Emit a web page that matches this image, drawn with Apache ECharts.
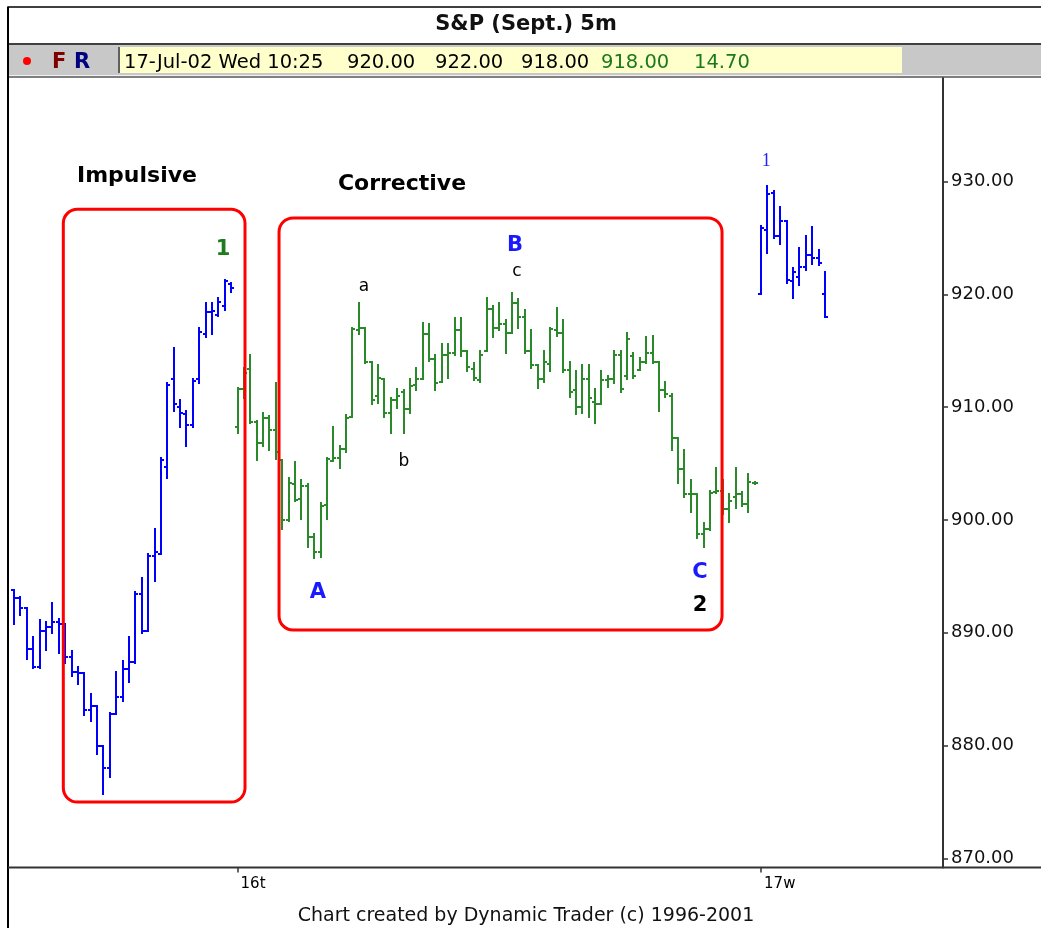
<!DOCTYPE html>
<html><head><meta charset="utf-8">
<script src="https://cdn.jsdelivr.net/npm/echarts@6/dist/echarts.min.js"></script>
<style>html,body{margin:0;padding:0;background:#fff;}#c{width:1041px;height:928px;}</style>
</head><body><div id="c"></div>
<script>
// ---------- data: 5-minute bars [open, high, low, close] ----------
const jul15Bars = [
 [893.8,893.8,890.8,893.1],[893.1,893.2,891.6,892.2],[892.2,892.2,887.7,888.6],[888.6,889.6,886.9,887.0],
 [887.0,891.1,886.9,890.2],[890.2,891.0,888.5,890.5],[890.5,892.6,890.0,891.0],[891.0,891.2,888.2,890.8],
 [890.8,890.8,887.3,887.9],[887.9,888.4,886.2,886.5],[886.5,887.0,885.5,886.4],[886.4,886.4,882.7,883.2],
 [883.2,884.6,882.2,883.5],[883.5,883.5,879.3,880.0],[880.0,880.0,875.7,878.0],[878.0,882.9,877.2,882.8],
 [882.8,886.5,882.8,884.3],[884.3,887.5,884.0,886.8],[886.8,889.6,885.6,887.4],[887.4,893.6,887.3,893.4],
 [893.4,894.9,890.0,890.2],[890.2,897.0,890.2,896.8],[896.8,899.2,894.6,897.2],[897.0,905.5,897.0,905.3],
 [904.7,912.1,903.7,912.0],[912.5,915.2,909.7,910.3],[910.0,910.6,908.2,909.5],[909.4,909.7,906.6,908.4],
 [908.4,912.5,908.2,912.3],[912.5,917.0,912.1,916.7],[916.5,919.2,916.2,918.4],[918.4,919.2,916.5,918.5],
 [918.2,919.7,918.1,919.3],[919.0,921.3,918.6,921.2],[920.9,921.0,920.2,920.6]
];
const jul16Bars = [
 [908.2,911.7,907.7,911.6],[911.6,913.5,910.8,913.0],[913.4,914.6,908.6,908.7],[908.7,908.8,905.3,906.8],
 [906.8,909.5,906.6,909.0],[909.0,909.2,906.2,908.0],[908.0,912.1,905.4,906.0],[905.3,905.3,899.2,900.0],
 [900.0,903.7,899.9,903.3],[903.2,905.1,901.7,901.8],[901.9,903.5,900.1,903.0],[903.0,903.2,897.6,898.5],
 [898.5,898.8,896.6,897.2],[897.2,901.5,896.7,901.2],[901.3,905.5,900.1,905.4],[905.2,908.2,905.2,905.5],
 [905.5,906.6,904.6,906.3],[906.3,909.3,906.0,909.0],[909.1,917.0,909.1,916.9],[916.8,919.2,916.5,917.0],
 [917.0,917.0,913.9,914.0],[914.0,914.0,910.3,910.6],[911.0,913.7,910.4,912.6],[912.5,912.5,909.1,909.5],
 [909.5,910.8,907.7,910.6],[910.6,911.6,909.9,911.0],[911.3,911.5,907.7,909.8],[909.8,912.5,909.5,911.9],
 [912.0,913.5,911.5,912.5],[912.5,917.5,912.5,916.5],[916.5,917.4,914.1,914.3],[914.3,914.6,911.5,912.1],
 [912.2,915.6,912.2,914.6],[914.6,915.6,912.6,914.8],[914.8,917.9,914.6,916.8],[916.8,917.9,914.5,915.0],
 [915.0,915.0,913.2,913.6],[913.4,913.9,912.4,912.6],[912.4,915.0,912.2,914.6],[915.0,919.7,915.0,918.7],
 [918.7,919.0,916.2,917.0],[917.0,919.2,916.8,917.4],[917.4,917.7,914.8,916.6],[916.6,920.1,916.6,919.2],
 [919.2,919.6,917.0,918.0],[918.0,918.6,914.8,915.0],[915.0,916.8,913.5,913.7],[913.7,913.7,911.7,912.5],
 [912.5,915.0,912.2,914.0],[913.8,917.0,913.2,916.9],[916.8,918.8,916.3,916.6],[916.6,917.7,913.1,913.3],
 [913.3,914.0,910.9,911.3],[911.5,913.2,909.4,910.0],[910.0,913.7,909.5,912.5],[912.5,913.7,909.1,910.8],
 [910.5,911.6,908.6,910.3],[910.3,913.2,910.3,912.4],[912.4,912.8,911.8,912.5],[912.5,915.0,912.1,914.6],
 [914.6,915.0,911.3,911.6],[912.8,916.6,912.5,916.0],[914.5,914.8,912.6,912.8],[913.3,914.4,913.3,914.0],
 [914.0,916.2,913.9,914.8],[914.8,916.3,913.9,914.0],[914.0,914.0,909.7,911.5],[911.5,912.2,910.9,911.2],
 [911.0,911.2,906.2,907.3],[907.3,907.3,903.3,904.5],[904.5,906.2,902.0,902.3],[902.3,903.5,900.7,902.3],
 [902.3,902.3,898.4,898.8],[898.8,899.7,897.6,899.2],[899.2,902.6,899.1,902.4],[902.5,904.6,902.4,902.6],
 [902.6,903.5,900.5,901.0],[901.0,902.3,899.8,901.7],[902.0,904.6,901.1,902.3],[902.3,902.5,901.2,901.4],
 [901.4,904.1,900.7,903.4],[903.3,903.4,903.2,903.3]
];
const jul17Bars = [
 [920.0,926.1,920.0,925.9],[925.7,929.6,923.7,928.9],[929.0,929.2,925.0,925.2],[925.2,927.7,924.5,926.5],
 [926.5,926.5,921.0,921.3],[921.2,922.3,919.7,922.0],[921.5,924.1,920.8,922.4],[922.4,925.2,922.2,923.5],
 [923.5,926.0,922.7,923.2],[923.2,923.9,922.6,922.8],[920.0,922.0,918.0,918.0]
];
const dayTags = ['15m', '16t', '17w'];
const dayStartTimes = ['13:25', '09:30', '09:35'];
const emptySlots = 18;
const priceTicks = [870, 880, 890, 900, 910, 920, 930];
const lastBarDate = '17-Jul-02 Wed';

// annotation boxes: [fromBar, toBar, topPrice, bottomPrice]
const waveBoxes = [[7.71, 36.17, 927.54, 875.0], [41.5, 110.89, 926.77, 890.25]];
// annotation labels: bar position, price, text, look
const waveLabels = [
  [19.25, 930.44, 'Impulsive', 'head'],
  [60.76, 929.78, 'Corrective', 'head'],
  [32.72, 923.93, '1', 'green'],
  [54.81, 920.65, 'a', 'small'],
  [78.46, 924.28, 'B', 'blue'],
  [78.78, 921.98, 'c', 'small'],
  [61.07, 905.14, 'b', 'small'],
  [47.6, 893.53, 'A', 'blue'],
  [107.44, 895.30, 'C', 'blue'],
  [107.44, 892.38, '2', 'black'],
  [117.81, 931.82, '1', 'serif']
];

// ---------- build categories ----------
const days = [jul15Bars, jul16Bars, jul17Bars];
const categories = [];
const dayStartIdx = [];
const pad = n => (n < 10 ? '0' : '') + n;
days.forEach((bars, d) => {
  dayStartIdx.push(categories.length);
  const [hh, mm] = dayStartTimes[d].split(':').map(Number);
  bars.forEach((b, k) => {
    const t = hh * 60 + mm + 5 * k;
    categories.push(dayTags[d] + ' ' + pad(Math.floor(t / 60)) + ':' + pad(t % 60));
  });
});
for (let i = 0; i < emptySlots; i++) categories.push('');
const labelSet = new Set(dayStartIdx.slice(1));

const FONT = 'DejaVu Sans';
const dayColors = ['#0000ff', '#2a8a2a', '#0000ff'];

function ohlcRender(color) {
  return function (params, api) {
    const i = api.value(0);
    const pH = api.coord([i, api.value(2)]);
    const pL = api.coord([i, api.value(3)]);
    const yO = Math.round(api.coord([i, api.value(1)])[1]);
    const yC = Math.round(api.coord([i, api.value(4)])[1]);
    const x = Math.round(pH[0]);
    const st = { stroke: color, lineWidth: 2 };
    return { type: 'group', children: [
      { type: 'line', shape: { x1: x, y1: Math.round(pH[1]) - 1, x2: x, y2: Math.round(pL[1]) + 1 }, style: st },
      { type: 'line', shape: { x1: x - 3, y1: yO, x2: x, y2: yO }, style: st },
      { type: 'line', shape: { x1: x, y1: yC, x2: x + 3, y2: yC }, style: st }
    ] };
  };
}

function barX(api, pos) {
  const band = api.size([1, 0])[0];
  return api.coord([0, 900])[0] + pos * band;
}

const boxSeries = {
  type: 'custom', silent: true, clip: false, z: 3,
  data: waveBoxes.map(b => [0, b[2], b[0], b[1], b[3]]),
  encode: { x: 0, y: 1 },
  renderItem: function (params, api) {
    const x0 = barX(api, api.value(2)), x1 = barX(api, api.value(3));
    const y0 = api.coord([0, api.value(1)])[1], y1 = api.coord([0, api.value(4)])[1];
    return { type: 'rect', shape: { x: x0, y: y0, width: x1 - x0, height: y1 - y0, r: 14 },
      style: { fill: 'none', stroke: '#ff0000', lineWidth: 3 } };
  }
};

const looks = {
  head: { font: 'bold 22px ' + FONT, fill: '#000' },
  green: { font: 'bold 21px ' + FONT, fill: '#1e7b1e' },
  blue: { font: 'bold 21px ' + FONT, fill: '#1a1aff' },
  black: { font: 'bold 21px ' + FONT, fill: '#000' },
  small: { font: '17px ' + FONT, fill: '#000' },
  serif: { font: '18px "Liberation Serif"', fill: '#2020ff' }
};
const labelSeries = {
  type: 'custom', silent: true, clip: false, z: 4,
  data: waveLabels.map(l => [0, l[1], l[0]]),
  encode: { x: 0, y: 1 },
  renderItem: function (params, api) {
    const lab = waveLabels[params.dataIndex];
    const lk = looks[lab[3]];
    return { type: 'text', x: barX(api, api.value(2)), y: api.coord([0, api.value(1)])[1],
      style: { text: lab[2], font: lk.font, fill: lk.fill, align: 'center', verticalAlign: 'middle' } };
  }
};

const barSeries = days.map((bars, d) => ({
  type: 'custom', z: 2, clip: true,
  data: bars.map((b, k) => [dayStartIdx[d] + k, b[0], b[1], b[2], b[3]]),
  encode: { x: 0, y: [1, 2, 3, 4] },
  renderItem: ohlcRender(dayColors[d])
}));

// info bar values from last bar
const last = jul17Bars[jul17Bars.length - 1];
const prevClose = jul16Bars[jul16Bars.length - 1][3];
const lastTime = categories[dayStartIdx[2] + jul17Bars.length - 1].split(' ')[1];
const infoY = 63;
const infoFont = '19.5px ' + FONT;

const graphic = [
  { type: 'rect', shape: { x: 8, y: 7, width: 1040, height: 37 }, style: { fill: '#fff', stroke: '#000', lineWidth: 1.5 }, z: 10 },
  { type: 'text', x: 526, y: 25, style: { text: 'S&P (Sept.) 5m', font: 'bold 21px ' + FONT, fill: '#111', align: 'center', verticalAlign: 'middle' }, z: 11 },
  { type: 'rect', shape: { x: 9, y: 44, width: 1040, height: 31 }, style: { fill: '#c8c8c8' }, z: 10 },
  { type: 'line', shape: { x1: 8, y1: 44, x2: 1041, y2: 44 }, style: { stroke: '#404040', lineWidth: 2 }, z: 11 },
  { type: 'line', shape: { x1: 8, y1: 75.5, x2: 1041, y2: 75.5 }, style: { stroke: '#f0f0f0', lineWidth: 1 }, z: 11 },
  { type: 'line', shape: { x1: 8, y1: 77, x2: 1041, y2: 77 }, style: { stroke: '#555', lineWidth: 1.5 }, z: 11 },
  { type: 'rect', shape: { x: 119, y: 47, width: 783, height: 26 }, style: { fill: '#ffffcc' }, z: 11 },
  { type: 'line', shape: { x1: 119, y1: 47, x2: 119, y2: 73 }, style: { stroke: '#606060', lineWidth: 2 }, z: 12 },
  { type: 'circle', shape: { cx: 27, cy: 61, r: 4 }, style: { fill: '#ff0000' }, z: 12 },
  { type: 'text', x: 52, y: infoY, style: { text: 'F', font: 'bold 21px ' + FONT, fill: '#800000', verticalAlign: 'middle' }, z: 12 },
  { type: 'text', x: 74, y: infoY, style: { text: 'R', font: 'bold 21px ' + FONT, fill: '#000080', verticalAlign: 'middle' }, z: 12 },
  { type: 'text', x: 124, y: infoY, style: { text: lastBarDate + ' ' + lastTime, font: infoFont, fill: '#000', verticalAlign: 'middle' }, z: 12 },
  { type: 'text', x: 347, y: infoY, style: { text: last[0].toFixed(2), font: infoFont, fill: '#000', verticalAlign: 'middle' }, z: 12 },
  { type: 'text', x: 435, y: infoY, style: { text: last[1].toFixed(2), font: infoFont, fill: '#000', verticalAlign: 'middle' }, z: 12 },
  { type: 'text', x: 521, y: infoY, style: { text: last[2].toFixed(2), font: infoFont, fill: '#000', verticalAlign: 'middle' }, z: 12 },
  { type: 'text', x: 601, y: infoY, style: { text: last[3].toFixed(2), font: infoFont, fill: '#1a7a1a', verticalAlign: 'middle' }, z: 12 },
  { type: 'text', x: 694, y: infoY, style: { text: (last[3] - prevClose).toFixed(2), font: infoFont, fill: '#1a7a1a', verticalAlign: 'middle' }, z: 12 },
  { type: 'line', shape: { x1: 8, y1: 7, x2: 8, y2: 928 }, style: { stroke: '#000', lineWidth: 2 }, z: 12 },
  { type: 'line', shape: { x1: 8, y1: 867.5, x2: 1041, y2: 867.5 }, style: { stroke: '#333', lineWidth: 2 }, z: 12 },
  { type: 'text', x: 526, y: 916, style: { text: 'Chart created by Dynamic Trader (c) 1996-2001', font: '19px ' + FONT, fill: '#111', align: 'center', verticalAlign: 'middle' }, z: 12 }
];

const chart = echarts.init(document.getElementById('c'), null, { renderer: 'canvas' });
chart.setOption({
  animation: false,
  backgroundColor: '#fff',
  grid: { left: 10.9, right: 98, top: 77.7, height: 789.8, containLabel: false },
  xAxis: {
    type: 'category', data: categories, boundaryGap: true,
    axisLine: { show: false },
    axisTick: { show: true, alignWithLabel: true, length: 5, interval: i => labelSet.has(i), lineStyle: { color: '#333', width: 1.5 } },
    axisLabel: { interval: i => labelSet.has(i), formatter: v => v.split(' ')[0], align: 'left', padding: [0, 0, 0, 3],
      fontFamily: FONT, fontSize: 15, color: '#000', margin: 9 },
    splitLine: { show: false }
  },
  yAxis: {
    type: 'value', position: 'right', min: 869.2, max: 939.2, splitNumber: 7, minInterval: 10, maxInterval: 10,
    axisLine: { show: true, lineStyle: { color: '#333', width: 2 } },
    axisTick: { show: true, length: 5, lineStyle: { color: '#333', width: 1.5 } },
    axisLabel: { showMinLabel: false, showMaxLabel: false, margin: 8, fontFamily: FONT, fontSize: 18, color: '#111',
      formatter: v => priceTicks.indexOf(Math.round(v)) >= 0 && Math.abs(v - Math.round(v)) < 1e-6 ? v.toFixed(2) : '' },
    splitLine: { show: false }
  },
  series: barSeries.concat([boxSeries, labelSeries]),
  graphic: graphic
});
</script></body></html>
